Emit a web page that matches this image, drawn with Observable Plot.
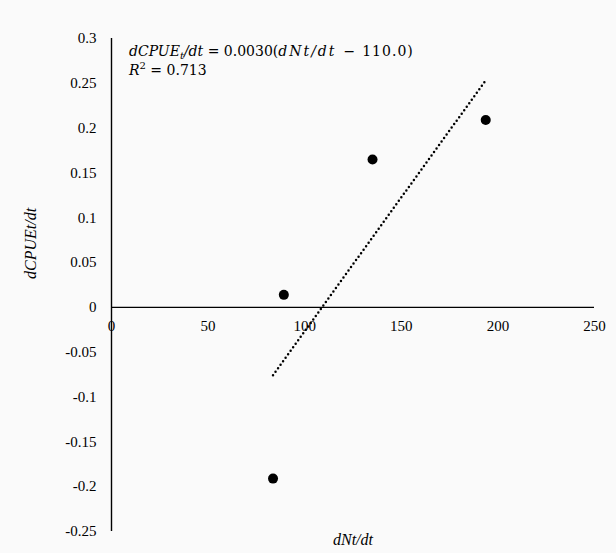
<!DOCTYPE html>
<html>
<head>
<meta charset="utf-8">
<script src="https://cdn.jsdelivr.net/npm/d3@7"></script>
<script src="https://cdn.jsdelivr.net/npm/@observablehq/plot@0.6"></script>
<style>
  html, body { margin: 0; padding: 0; background: #fafafa; }
  #chart svg { display: block; background: #fafafa; }
</style>
</head>
<body>
<div id="chart"></div>
<script>
// Data
const dNt = [83.6, 89.2, 135.1, 193.7];
const dCPUE = [-0.191, 0.014, 0.165, 0.209];
const xTicks = [0, 50, 100, 150, 200, 250];
const yTicks = [-0.25, -0.2, -0.15, -0.1, -0.05, 0, 0.05, 0.1, 0.15, 0.2, 0.25, 0.3];
const xTitle = "dNt/dt";
const yTitle = "dCPUEt/dt";

const points = dNt.map((x, i) => ({x, y: dCPUE[i]}));
const serif = "Liberation Serif";

const chart = Plot.plot({
  width: 616,
  height: 553,
  marginLeft: 111,
  marginRight: 22,
  marginTop: 38,
  marginBottom: 22,
  style: {background: "#fafafa", fontFamily: serif},
  x: {domain: [0, 250], axis: null},
  y: {domain: [-0.25, 0.3], axis: null},
  marks: [
    Plot.ruleX([0], {stroke: "#000", strokeWidth: 1.4}),
    Plot.ruleY([0], {stroke: "#000", strokeWidth: 1.4}),
    Plot.text(yTicks, {x: 0, y: d => d, text: d => String(d), textAnchor: "end", dx: -15, fontSize: 15, fontFamily: serif, fill: "#000"}),
    Plot.text(xTicks, {x: d => d, y: 0, text: d => String(d), dy: 19, fontSize: 15, fontFamily: serif, fill: "#000"}),
    Plot.linearRegressionY(points, {x: "x", y: "y", ci: 0, stroke: "#000", strokeWidth: 2.5, strokeLinecap: "round", strokeDasharray: "0,4.3"}),
    Plot.dot(points, {x: "x", y: "y", r: 5, fill: "#000", stroke: "none"}),
    Plot.text([xTitle], {frameAnchor: "bottom", dy: 13, fontSize: 16, fontStyle: "italic", fontFamily: serif, fill: "#000"}),
    Plot.text([yTitle], {frameAnchor: "left", dx: -81, dy: -6, rotate: -90, fontSize: 16, fontStyle: "italic", fontFamily: serif, fill: "#000"})
  ]
});
document.getElementById("chart").appendChild(chart);

// Regression equation annotation
const svg = d3.select(chart);
const g = svg.append("g")
  .attr("font-family", "DejaVu Serif")
  .attr("font-size", 14)
  .attr("text-anchor", "start")
  .attr("fill", "#000");
const l1 = g.append("text").attr("x", 129).attr("y", 56);
l1.append("tspan").attr("font-style", "italic").text("dCPUE");
l1.append("tspan").attr("font-style", "italic").attr("font-size", 10).attr("dy", 3).text("t");
l1.append("tspan").attr("font-style", "italic").attr("dy", -3).text("/dt");
l1.append("tspan").attr("font-style", "normal").text(" = 0.0030(");
l1.append("tspan").attr("font-style", "italic").attr("letter-spacing", 2).text("dNt/dt");
l1.append("tspan").attr("font-style", "normal").text("\u2002−\u2002");
l1.append("tspan").attr("font-style", "normal").attr("letter-spacing", 1).text("110.0)");
const l2 = g.append("text").attr("x", 129).attr("y", 75);
l2.append("tspan").attr("font-style", "italic").text("R");
l2.append("tspan").attr("font-size", 10).attr("dy", -6).text("2");
l2.append("tspan").attr("dy", 6).text(" = 0.713");
</script>
</body>
</html>
